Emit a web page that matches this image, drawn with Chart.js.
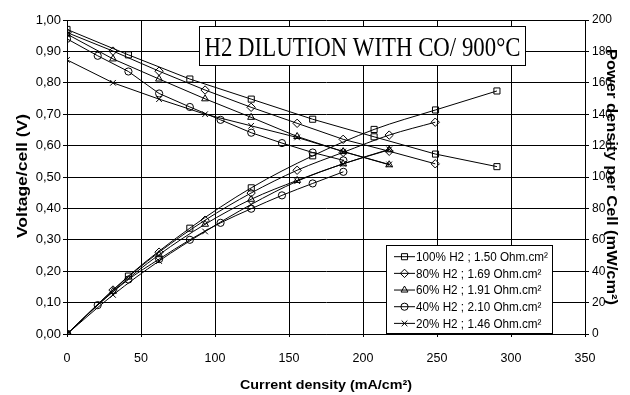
<!DOCTYPE html>
<html>
<head>
<meta charset="utf-8">
<script src="https://cdn.jsdelivr.net/npm/chart.js@4.4.1/dist/chart.umd.min.js"></script>
<style>
  html, body { margin: 0; padding: 0; background: #fff; }
  #wrap { width: 630px; height: 395px; }
</style>
</head>
<body>
<div id="wrap"><canvas id="chart" width="630" height="395"></canvas></div>
<script>
// current density (mA/cm2), voltage (V) and power density (mW/cm2) per mixture
const current100 = [0, 41.5, 83, 124.5, 166, 207.5, 249, 290.5];
const volt100 = [0.97, 0.889, 0.812, 0.748, 0.684, 0.628, 0.573, 0.533];
const power100 = [0, 36.9, 67.4, 93.1, 113.5, 130.3, 142.7, 154.8];

const current80 = [0, 31.1, 62.2, 93.3, 124.4, 155.5, 186.6, 217.7, 248.8];
const volt80 = [0.96, 0.901, 0.837, 0.777, 0.722, 0.671, 0.62, 0.582, 0.542];
const power80 = [0, 28.0, 52.1, 72.5, 89.8, 104.3, 115.7, 126.7, 134.9];

const current60 = [0, 31.1, 62.2, 93.3, 124.4, 155.5, 186.6, 217.7];
const volt60 = [0.955, 0.876, 0.812, 0.749, 0.69, 0.629, 0.581, 0.539];
const power60 = [0, 27.2, 50.5, 69.9, 85.8, 97.8, 108.4, 117.3];

const current40 = [0, 20.75, 41.5, 62.25, 83, 103.75, 124.5, 145.25, 166, 186.75];
const volt40 = [0.94, 0.886, 0.836, 0.766, 0.723, 0.682, 0.641, 0.608, 0.578, 0.553];
const power40 = [0, 18.4, 34.7, 47.7, 60.0, 70.8, 79.8, 88.3, 95.9, 103.3];

const current20 = [0, 31.1, 62.2, 93.3, 124.4, 155.5, 186.6, 217.7];
const volt20 = [0.873, 0.80, 0.748, 0.70, 0.663, 0.626, 0.581, 0.54];
const power20 = [0, 24.9, 46.5, 65.3, 82.5, 97.3, 108.4, 117.6];

const seriesLabels = [
  '100% H2 ; 1.50 Ohm.cm²',
  '80% H2 ; 1.69 Ohm.cm²',
  '60% H2 ; 1.91 Ohm.cm²',
  '40% H2 ; 2.10 Ohm.cm²',
  '20% H2 ; 1.46 Ohm.cm²'
];
const markers = ['rect', 'rectRot', 'triangle', 'circle', 'crossRot'];
const markerSize = [4.3, 4.2, 4, 3.6, 4];

const xTicks = [0, 50, 100, 150, 200, 250, 300, 350];

const series = [
  [current100, volt100, power100],
  [current80, volt80, power80],
  [current60, volt60, power60],
  [current40, volt40, power40],
  [current20, volt20, power20]
];

function toPoints(xs, ys) {
  return xs.map((x, i) => ({ x: x, y: ys[i] }));
}

const datasets = [];
series.forEach((s, i) => {
  const common = {
    label: seriesLabels[i],
    borderColor: '#000',
    borderWidth: 1,
    pointStyle: markers[i],
    pointRadius: markerSize[i],
    pointBorderColor: '#000',
    pointBackgroundColor: 'rgba(0,0,0,0)',
    pointBorderWidth: 1,
    fill: false
  };
  datasets.push(Object.assign({}, common, { data: toPoints(s[0], s[1]), yAxisID: 'y', tension: 0 }));
  datasets.push(Object.assign({}, common, { data: toPoints(s[0], s[2]), yAxisID: 'y2', cubicInterpolationMode: 'monotone' }));
});

const sansFont = '"Liberation Sans", Arial, sans-serif';

function fitText(ctx, text, x, y, width, align) {
  const w = ctx.measureText(text).width;
  const sx = width / w;
  ctx.save();
  ctx.translate(x, y);
  ctx.scale(sx, 1);
  ctx.textAlign = align;
  ctx.fillText(text, 0, 0);
  ctx.restore();
}

const overlay = {
  id: 'overlay',
  afterDraw(chart) {
    const ctx = chart.ctx;
    ctx.save();

    // title box
    ctx.fillStyle = '#fff';
    ctx.fillRect(199.5, 26.5, 326, 39);
    ctx.strokeStyle = '#000';
    ctx.lineWidth = 1;
    ctx.strokeRect(199.5, 26.5, 326, 39);
    ctx.fillStyle = '#000';
    ctx.font = '28px "Liberation Serif", "Times New Roman", serif';
    ctx.textBaseline = 'alphabetic';
    fitText(ctx, 'H2 DILUTION WITH CO/ 900°C', 362.5, 56, 316, 'center');

    // legend box
    ctx.fillStyle = '#fff';
    ctx.fillRect(386.5, 245.5, 166, 88);
    ctx.strokeRect(386.5, 245.5, 166, 88);
    ctx.font = '12px ' + sansFont;
    ctx.textBaseline = 'middle';
    const scale = 132 / ctx.measureText(seriesLabels[0]).width;
    seriesLabels.forEach((lab, i) => {
      const y = 256.7 + i * 16.67;
      ctx.strokeStyle = '#000';
      ctx.lineWidth = 1;
      ctx.beginPath();
      ctx.moveTo(394, y);
      ctx.lineTo(415, y);
      ctx.stroke();
      ctx.fillStyle = 'rgba(0,0,0,0)';
      Chart.helpers.drawPoint(ctx, { pointStyle: markers[i], radius: markerSize[i], rotation: 0, borderWidth: 1 }, 404.5, y);
      ctx.fillStyle = '#000';
      fitText(ctx, lab, 416, y + 1, ctx.measureText(lab).width * scale, 'left');
    });

    // axis titles
    ctx.fillStyle = '#000';
    ctx.textBaseline = 'middle';
    ctx.font = 'bold 14px ' + sansFont;
    ctx.save();
    ctx.translate(23, 176);
    ctx.rotate(-Math.PI / 2);
    fitText(ctx, 'Voltage/cell (V)', 0, 0, 124, 'center');
    ctx.restore();

    ctx.font = 'bold 13.5px ' + sansFont;
    fitText(ctx, 'Current density (mA/cm²)', 326, 385, 172, 'center');

    ctx.font = 'bold 15px ' + sansFont;
    ctx.save();
    ctx.translate(611.5, 177);
    ctx.rotate(Math.PI / 2);
    fitText(ctx, 'Power density per Cell (mW/cm²)', 0, 0, 256, 'center');
    ctx.restore();

    ctx.restore();
  }
};

new Chart(document.getElementById('chart'), {
  type: 'line',
  data: { datasets: datasets },
  options: {
    responsive: false,
    animation: false,
    layout: { padding: { top: 20, left: 0, right: 0, bottom: 0 } },
    plugins: {
      legend: { display: false },
      tooltip: { enabled: false }
    },
    scales: {
      x: {
        type: 'linear',
        min: 0,
        max: 350,
        afterBuildTicks: (scale) => { scale.ticks = xTicks.map(v => ({ value: v })); },
        afterFit: (scale) => { scale.height = 61; },
        grid: { color: '#000', lineWidth: 1, tickLength: 3, tickColor: '#000' },
        border: { display: true, color: '#000' },
        ticks: { color: '#000', font: { family: sansFont, size: 12.5 }, padding: 14, maxRotation: 0 }
      },
      y: {
        position: 'left',
        min: 0,
        max: 1,
        afterFit: (scale) => { scale.width = 67; },
        grid: { color: '#000', lineWidth: 1, tickLength: 4, tickColor: '#000' },
        border: { display: true, color: '#000' },
        ticks: {
          stepSize: 0.1,
          color: '#000',
          font: { family: sansFont, size: 13 },
          padding: 2,
          callback: (v) => v.toFixed(2).replace('.', ',')
        }
      },
      y2: {
        position: 'right',
        min: 0,
        max: 200,
        afterFit: (scale) => { scale.width = 45; },
        grid: { drawOnChartArea: false, tickLength: 4, tickColor: '#000' },
        border: { display: true, color: '#000' },
        ticks: { stepSize: 20, color: '#000', font: { family: sansFont, size: 12 }, padding: 3 }
      }
    }
  },
  plugins: [overlay]
});
</script>
</body>
</html>
